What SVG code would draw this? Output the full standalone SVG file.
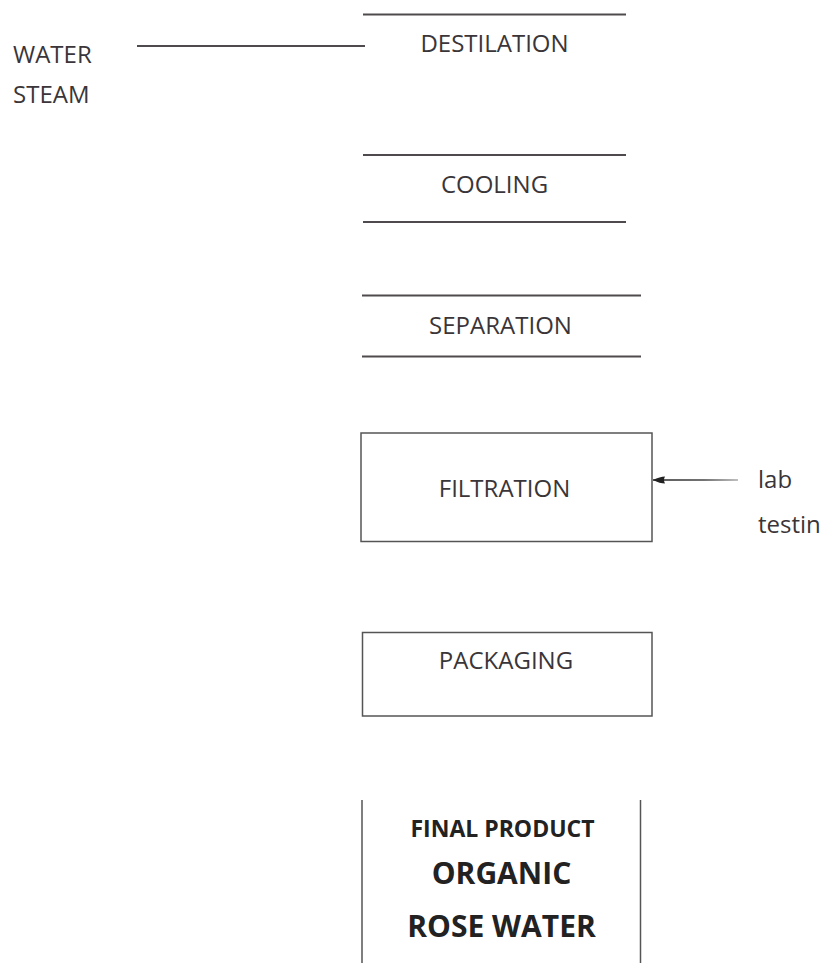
<svg xmlns="http://www.w3.org/2000/svg" width="824" height="963" viewBox="0 0 824 963">
<style>
.t{font-family:"Open Sans","Noto Sans","Liberation Sans",sans-serif;font-size:24px;fill:#3a3538}
.c{text-anchor:middle}
.b{font-weight:bold;fill:#222}
.ln{stroke:#4f4a4d;stroke-width:2;fill:none}
.bx{stroke:#555;stroke-width:1.5;fill:none}
</style>
<defs>
<marker id="ah" viewBox="0 0 12 10" refX="12" refY="5" markerWidth="12" markerHeight="10" markerUnits="userSpaceOnUse" orient="auto">
<path d="M0,1.5 Q5,1.5 12,5 Q5,8.5 0,8.5 Q2,5 0,1.5 Z" fill="#222"/>
</marker>
<linearGradient id="fade" gradientUnits="userSpaceOnUse" x1="653" y1="0" x2="738" y2="0">
<stop offset="0" stop-color="#222"/>
<stop offset="0.6" stop-color="#444"/>
<stop offset="1" stop-color="#aaa"/>
</linearGradient>
</defs>
<g id="water-steam">
<text class="t" x="13" y="63">WATER</text>
<text class="t" x="13" y="103">STEAM</text>
</g>
<g id="destilation">
<line class="ln" x1="363" y1="14.5" x2="626" y2="14.5" stroke="#5a4a50"/>
<text class="t c" x="494.5" y="52">DESTILATION</text>
</g>
<g id="cooling">
<line class="ln" x1="363" y1="155" x2="626" y2="155"/>
<line class="ln" x1="363" y1="222" x2="626" y2="222"/>
<text class="t c" x="494.5" y="193">COOLING</text>
</g>
<g id="separation">
<line class="ln" x1="362" y1="295.5" x2="641" y2="295.5"/>
<line class="ln" x1="362" y1="356.5" x2="641" y2="356.5"/>
<text class="t c" x="500.5" y="334">SEPARATION</text>
</g>
<g id="filtration">
<rect class="bx" x="361" y="433" width="291" height="108.5"/>
<text class="t c" x="504.5" y="497">FILTRATION</text>
</g>
<g id="lab-testing">
<text class="t" x="758" y="488">lab</text>
<text class="t" x="758" y="533">testin</text>
</g>
<g id="packaging">
<rect class="bx" x="362.5" y="632.5" width="289.5" height="83.5"/>
<text class="t c" x="506" y="669">PACKAGING</text>
</g>
<g id="final-product">
<line class="bx" x1="362" y1="800" x2="362" y2="963"/>
<line class="bx" x1="640.5" y1="800" x2="640.5" y2="963"/>
<text class="t c b" x="502.5" y="837" style="font-size:23px">FINAL PRODUCT</text>
<text class="t c b" x="501.5" y="884" style="font-size:30px">ORGANIC</text>
<text class="t c b" x="501.5" y="937" style="font-size:30px">ROSE WATER</text>
</g>
<g id="connectors">
<line class="ln" x1="137" y1="46" x2="365" y2="46"/>
<path d="M738,480 H653" stroke="url(#fade)" stroke-width="1.6" fill="none" marker-end="url(#ah)"/>
</g>
</svg>
